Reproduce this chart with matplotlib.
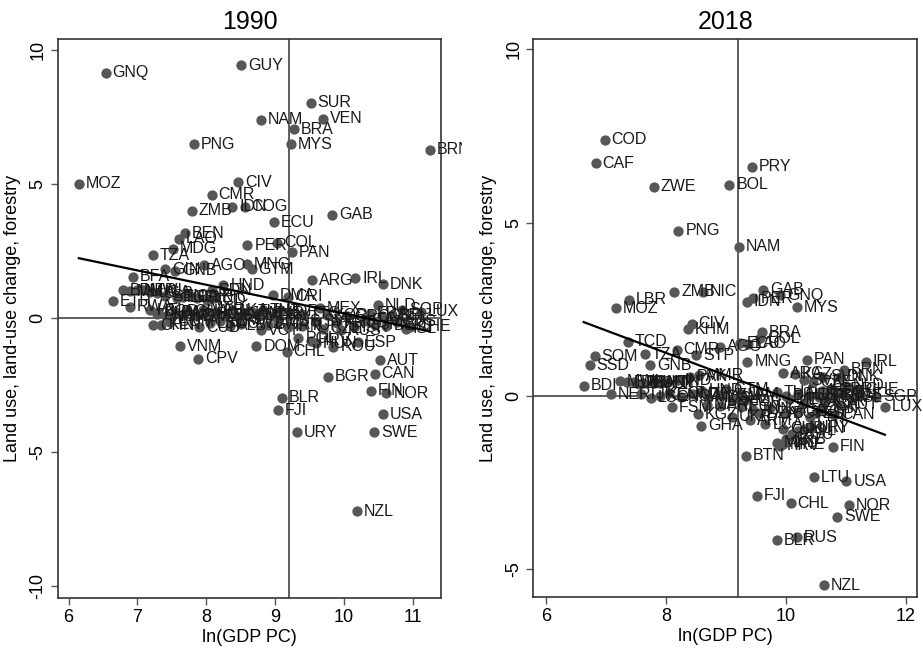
import matplotlib
matplotlib.use("Agg")
import matplotlib.pyplot as plt
import numpy as np
from matplotlib.transforms import Bbox, TransformedBbox

plt.rcParams['font.family'] = ['Liberation Sans', 'DejaVu Sans']

# 1990 panel: country, ln(GDP PC), land use change
codes_1990 = ['GNQ', 'GUY', 'SUR', 'NAM', 'VEN', 'BRA', 'MYS', 'PNG', 'BRN', 'MOZ',
              'CIV', 'CMR', 'ZMB', 'IDN', 'COG', 'GAB', 'ECU', 'BEN', 'LAO', 'PER',
              'COL', 'PAN', 'MDG', 'TZA', 'AGO', 'GIN', 'GNB', 'MNG', 'GTM', 'BFA',
              'HND', 'SDN', 'ARG', 'IRL', 'DNK', 'DMA', 'CRI', 'ETH', 'RWA',
              'BDI', 'MLI', 'NER', 'MWI', 'UGA', 'SLB', 'SEN', 'TGO', 'LBR', 'CAF',
              'SLE', 'TCD', 'NIC',
              'HTI', 'KHM', 'NGA', 'PAK', 'IND', 'GHA', 'ZWE', 'MAR', 'BOL', 'PHL',
              'SLV', 'LKA', 'EGY', 'JAM', 'TUN', 'DZA', 'SYR', 'PRY', 'JOR', 'TTO',
              'KEN', 'COM', 'CUB', 'LSO', 'YEM', 'ALB', 'SWZ', 'BWA', 'MUS', 'TUR',
              'PRT', 'GRC', 'ISR', 'ITA', 'FRA', 'JPN', 'GBR', 'DEU', 'BEL', 'AUS',
              'SGP', 'ISL', 'KOR', 'CZE', 'SVK', 'HRV',
              'VNM', 'CPV', 'CHN', 'BGD', 'DOM', 'VCT', 'IRN', 'THA', 'MEX', 'NLD',
              'LUX', 'CHE', 'RUS', 'ESP', 'POL', 'ROU', 'HUN', 'CHL', 'AUT', 'CAN',
              'BGR', 'FIN', 'NOR', 'BLR', 'FJI', 'USA', 'URY', 'SWE', 'NZL']
gdp_1990 = [6.54, 8.51, 9.52, 8.80, 9.70, 9.28, 9.23, 7.82, 11.25, 6.15,
            8.47, 8.08, 7.79, 8.38, 8.56, 9.83, 8.98, 7.69, 7.60, 8.60,
            9.03, 9.25, 7.52, 7.23, 7.97, 7.40, 7.55, 8.59, 8.66, 6.94,
            8.25, 8.08, 9.54, 10.17, 10.57, 8.97, 9.19, 6.64, 6.89,
            6.79, 6.89, 6.99, 7.08, 7.18, 7.28, 7.40, 7.57, 7.66, 7.76,
            7.86, 8.01, 8.13,
            7.18, 7.28, 7.42, 7.55, 7.65, 7.72, 7.85, 7.95, 8.05, 8.15,
            8.28, 8.38, 8.45, 8.55, 8.65, 8.75, 8.85, 8.95, 9.08, 9.40,
            7.35, 7.48, 7.90, 8.05, 8.20, 8.35, 8.50, 8.90, 9.05, 9.40,
            9.90, 10.05, 10.15, 10.30, 10.38, 10.45, 10.55, 10.62, 10.70, 10.78,
            10.85, 10.90, 9.75, 9.70, 9.60, 9.52,
            7.62, 7.88, 7.23, 7.30, 8.73, 8.80, 9.19, 8.82, 9.65, 10.50,
            11.12, 10.96, 9.96, 10.20, 9.34, 9.85, 9.60, 9.17, 10.53, 10.45,
            9.77, 10.40, 10.62, 9.10, 9.04, 10.57, 9.32, 10.44, 10.19]
luc_1990 = [9.14, 9.42, 8.02, 7.38, 7.43, 7.03, 6.47, 6.48, 6.26, 5.00,
            5.06, 4.59, 3.99, 4.14, 4.14, 3.84, 3.57, 3.15, 2.95, 2.70,
            2.80, 2.44, 2.57, 2.33, 1.97, 1.81, 1.75, 2.00, 1.81, 1.53,
            1.22, 1.03, 1.41, 1.47, 1.26, 0.85, 0.78, 0.62, 0.41,
            1.02, 0.99, 1.02, 1.02, 0.96, 0.92, 0.81, 0.74, 0.77, 0.81,
            0.74, 0.66, 0.74,
            0.28, 0.15, 0.05, 0.20, 0.10, 0.25, 0.05, 0.30, 0.12, 0.22,
            0.08, 0.28, 0.05, 0.18, 0.25, 0.10, 0.15, 0.05, 0.22, 0.15,
            -0.25, -0.15, -0.35, -0.20, -0.10, -0.30, -0.22, -0.25, -0.15, -0.30,
            -0.20, 0.05, -0.35, -0.10, 0.15, -0.25, 0.05, -0.30, 0.10, -0.15,
            0.30, -0.40, 0.10, -0.40, -0.15, -0.85,
            -1.06, -1.52, -0.27, 0.22, -1.06, -0.46, -0.34, 0.29, 0.36, 0.47,
            0.22, -0.34, -0.46, -0.92, -0.77, -1.08, -0.95, -1.27, -1.58, -2.08,
            -2.20, -2.72, -2.82, -2.98, -3.44, -3.59, -4.26, -4.26, -7.21]

# 2018 panel
codes_2018 = ['COD', 'CAF', 'PRY', 'ZWE', 'BOL', 'PNG', 'NAM', 'ZMB', 'NIC', 'LBR',
              'MOZ', 'GAB', 'IDN', 'PER', 'GNQ', 'MYS', 'CIV', 'KHM', 'BRA', 'COL',
              'TCD', 'CMR', 'TZA', 'AGO', 'ECU', 'LAO', 'SOM', 'SSD', 'GNB', 'STP',
              'MNG', 'PAN', 'IRL', 'BRN', 'DNK', 'BDI', 'NER', 'SGP', 'LUX', 'FSM',
              'KGZ', 'GHA', 'LCA', 'BTN', 'FIN', 'HRV', 'LTU', 'USA', 'FJI', 'CHL',
              'NOR', 'SWE', 'BLR', 'RUS', 'NZL',
              'MWI', 'ETH', 'UGA', 'MLI', 'SEN', 'HTI', 'NPL', 'BFA', 'IND', 'PAK', 'MMR',
              'TJK', 'LSO', 'KEN', 'COM', 'NGA', 'UZB', 'MDA', 'YEM', 'SLV', 'JAM',
              'GTM', 'HND',
              'MAR', 'PHL', 'EGY', 'TUN', 'DZA', 'LKA', 'JOR', 'UKR', 'ARM',
              'ARG', 'KAZ', 'SVK', 'CZE', 'SVN',
              'THA', 'BIH', 'MEX', 'TUR', 'BEL', 'DEU', 'FRA', 'GBR', 'ITA', 'AUS',
              'ISR', 'AUT', 'EST', 'LVA', 'NLD', 'CHE', 'ISL', 'KOR', 'JPN',
              'GRC', 'ESP', 'CAN', 'BGR', 'PRT',
              'POL', 'ROU', 'HUN', 'CUB', 'URY', 'SRB', 'MKD', 'MNE']
gdp_2018 = [6.98, 6.83, 9.44, 7.80, 9.06, 8.21, 9.22, 8.14, 8.62, 7.39,
            7.16, 9.62, 9.35, 9.46, 9.90, 10.19, 8.43, 8.37, 9.60, 9.57,
            7.37, 8.18, 7.65, 8.90, 9.24, 9.37, 6.81, 6.73, 7.74, 8.51,
            9.36, 10.35, 11.33, 10.97, 10.90, 6.63, 7.08, 11.51, 11.65, 8.10,
            8.54, 8.59, 9.66, 9.33, 10.79, 9.90, 10.47, 11.01, 9.52, 10.08,
            11.05, 10.86, 9.85, 10.19, 10.63,
            7.24, 7.35, 7.46, 7.62, 7.80, 7.90, 8.02, 7.55, 8.20, 8.40, 8.55,
            7.58, 7.75, 7.90, 8.05, 8.25, 8.45, 8.70, 8.90, 9.10, 9.25,
            9.00, 8.60,
            8.68, 8.90, 9.26, 9.45, 9.57, 9.74, 9.30, 9.10, 9.40,
            9.95, 10.15, 10.30, 10.45, 10.62,
            9.85, 10.00, 10.05, 10.20, 10.80, 10.85, 10.70, 10.75, 10.55, 10.95,
            10.60, 10.90, 10.40, 10.30, 11.00, 11.20, 11.10, 10.65, 10.60,
            10.20, 10.50, 10.80, 10.00, 10.40,
            10.20, 10.10, 10.30, 9.95, 10.40, 10.00, 9.85, 9.95]
luc_2018 = [7.40, 6.71, 6.61, 6.04, 6.10, 4.77, 4.31, 3.01, 3.01, 2.77,
            2.53, 3.06, 2.72, 2.82, 2.91, 2.56, 2.08, 1.92, 1.84, 1.66,
            1.57, 1.33, 1.21, 1.42, 1.52, 1.50, 1.15, 0.89, 0.89, 1.18,
            0.99, 1.04, 0.99, 0.75, 0.55, 0.30, 0.05, -0.02, -0.31, -0.33,
            -0.53, -0.86, -0.82, -1.72, -1.46, -1.44, -2.35, -2.46, -2.88, -3.10,
            -3.15, -3.48, -4.17, -4.08, -5.47,
            0.42, 0.40, 0.40, 0.38, 0.36, 0.38, 0.40, 0.35, 0.45, 0.55, 0.60,
            0.05, -0.05, 0.00, 0.08, -0.02, 0.05, -0.05, 0.02, -0.08, 0.05,
            0.20, 0.15,
            -0.26, -0.30, -0.31, -0.40, -0.50, -0.35, -0.15, -0.60, -0.70,
            0.65, 0.62, 0.45, 0.40, 0.55,
            0.10, 0.00, -0.10, 0.05, 0.00, 0.10, -0.05, 0.20, -0.02, 0.05,
            0.15, -0.25, 0.00, -0.20, 0.30, 0.20, -0.05, -0.15, -0.35,
            -0.45, -0.50, -0.55, -0.50, -0.60,
            -1.00, -1.10, -0.95, -0.95, -0.90, -1.25, -1.35, -1.40]

median_gdp = 9.21
dot_color = '#575757'
axis_color = '#333333'


def panel(ax, title, codes, gdp, luc, xlim, xticks, ylim, yticks, clip_box=None):
    gdp = np.array(gdp)
    luc = np.array(luc)
    ax.scatter(gdp, luc, s=55, color=dot_color, zorder=3, linewidths=0)
    for c, xv, yv in zip(codes, gdp, luc):
        t = ax.annotate(c, (xv, yv), xytext=(5, 0), textcoords='offset points',
                        ha='left', va='center', fontsize=11.5, color='#1a1a1a',
                        zorder=4, annotation_clip=False)
        if clip_box is not None:
            t.set_clip_box(clip_box)
            t.set_clip_on(True)
    # fitted line over the data range
    slope, icpt = np.polyfit(gdp, luc, 1)
    xs = np.array([gdp.min(), gdp.max()])
    ax.plot(xs, icpt + slope * xs, color='black', lw=1.6, zorder=5)
    ax.axhline(0, color=axis_color, lw=1.1, zorder=2)
    ax.axvline(median_gdp, color=axis_color, lw=1.1, zorder=2)
    ax.set_xlim(xlim)
    ax.set_ylim(ylim)
    ax.set_xticks(xticks)
    ax.set_yticks(yticks)
    ax.set_yticklabels([str(v) for v in yticks], rotation=90, va='center')
    ax.tick_params(labelsize=13, length=5, width=1, color='#555555', pad=3)
    for s in ax.spines.values():
        s.set_color(axis_color)
        s.set_linewidth(1.2)
    ax.set_title(title, fontsize=18, pad=7)
    ax.set_xlabel('ln(GDP PC)', fontsize=13, labelpad=2)
    ax.set_ylabel('Land use, land-use change, forestry', fontsize=13, labelpad=6)


fig = plt.figure(figsize=(9.23, 6.49), dpi=100)
ax1 = fig.add_axes([0.0623, 0.0786, 0.416, 0.8613])
ax2 = fig.add_axes([0.5778, 0.0797, 0.416, 0.8602])

clip_left = TransformedBbox(Bbox([[0, 0], [462 / 923, 1]]), fig.transFigure)

panel(ax1, '1990', codes_1990, gdp_1990, luc_1990,
      (5.84, 11.42), [6, 7, 8, 9, 10, 11], (-10.45, 10.4), [-10, -5, 0, 5, 10],
      clip_box=clip_left)
panel(ax2, '2018', codes_2018, gdp_2018, luc_2018,
      (5.79, 12.19), [6, 8, 10, 12], (-5.81, 10.3), [-5, 0, 5, 10])

fig.savefig('out.png', dpi=100)
